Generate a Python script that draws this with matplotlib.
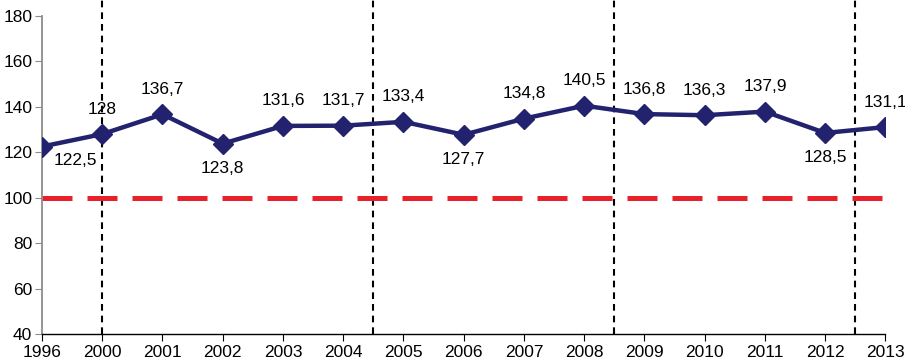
import matplotlib
matplotlib.use("Agg")
import matplotlib.pyplot as plt

years = ["1996", "2000", "2001", "2002", "2003", "2004", "2005", "2006",
         "2007", "2008", "2009", "2010", "2011", "2012", "2013"]
values = [122.5, 128, 136.7, 123.8, 131.6, 131.7, 133.4, 127.7,
          134.8, 140.5, 136.8, 136.3, 137.9, 128.5, 131.1]
label_below = [True, False, False, True, False, False, False, True,
               False, False, False, False, False, True, False]
reference_level = 100
separators = [1, 5.5, 9.5, 13.5]
y_ticks = [40, 60, 80, 100, 120, 140, 160, 180]

plt.rcParams['font.family'] = ['Liberation Sans', 'DejaVu Sans']

fig = plt.figure(figsize=(9.05, 3.61), dpi=100)
ax = fig.add_axes([0.0464, 0.0748, 0.932, 0.881])

x = list(range(len(years)))

ax.axhline(reference_level, color='#E8202A', lw=3.6, dashes=(6, 3), zorder=2)

for s in separators:
    ax.plot([s, s], [40, 187], color='black', lw=1.5, dashes=(3.2, 2.4),
            clip_on=False, zorder=1)

ax.plot(x, values, color='#22226E', lw=3.2, marker='D', markersize=10,
        markerfacecolor='#22226E', markeredgecolor='#22226E', zorder=3)

for i, (v, below) in enumerate(zip(values, label_below)):
    txt = f"{v:g}".replace('.', ',')
    if i == 0:
        ax.annotate(txt, (i, v), xytext=(33, -14), textcoords='offset pixels',
                    ha='center', va='center', fontsize=12.5)
    elif below:
        ax.annotate(txt, (i, v), xytext=(0, -25), textcoords='offset pixels',
                    ha='center', va='center', fontsize=12.5)
    else:
        ax.annotate(txt, (i, v), xytext=(0, 25), textcoords='offset pixels',
                    ha='center', va='center', fontsize=12.5, zorder=4)

ax.set_xlim(0, len(years) - 1)
ax.set_ylim(40, 180)
ax.set_xticks(x)
ax.set_xticklabels(years, fontsize=12.5)
ax.set_yticks(y_ticks)
ax.set_yticklabels([str(t) for t in y_ticks], fontsize=12.5)

ax.spines['top'].set_visible(False)
ax.spines['right'].set_visible(False)
ax.spines['left'].set_color('#8C8C8C')
ax.spines['left'].set_linewidth(1.3)
ax.spines['bottom'].set_color('black')
ax.spines['bottom'].set_linewidth(1.0)
ax.tick_params(axis='y', direction='out', length=5, color='#8C8C8C', pad=2)
ax.tick_params(axis='x', direction='out', length=5, color='black', pad=3)

fig.savefig("out.png", dpi=100)
